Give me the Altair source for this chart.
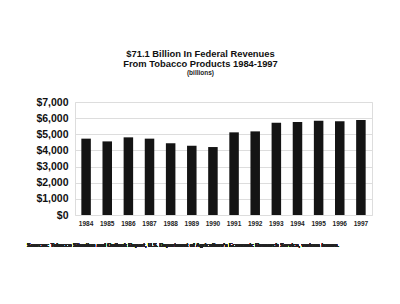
import altair as alt
import pandas as pd

years = ["1984", "1985", "1986", "1987", "1988", "1989", "1990",
         "1991", "1992", "1993", "1994", "1995", "1996", "1997"]
revenues = [4730, 4560, 4810, 4730, 4450, 4290, 4210,
            5120, 5180, 5720, 5760, 5840, 5800, 5890]

df = pd.DataFrame({"year": years, "revenue": revenues})

FONT = "Liberation Sans"

bars = alt.Chart(df).mark_bar(color="#141414").encode(
    x=alt.X("year:N", sort=years,
            scale=alt.Scale(paddingInner=0.55, paddingOuter=0.3),
            axis=alt.Axis(title=None, labelAngle=0, labelFont=FONT,
                          labelFontSize=6.5, labelFontWeight="bold",
                          labelColor="#222", ticks=False, domain=False,
                          labelPadding=5)),
    y=alt.Y("revenue:Q",
            scale=alt.Scale(domain=[0, 7000], nice=False),
            axis=alt.Axis(title=None, values=[0, 1000, 2000, 3000, 4000, 5000, 6000, 7000],
                          format="$,.0f", labelFont=FONT, labelFontSize=10.5,
                          labelFontWeight="bold", labelColor="#111",
                          ticks=False, domain=False, labelPadding=7,
                          grid=True, gridColor="#dddddd", gridWidth=1)),
)

source = alt.Chart(df).mark_text(
    text="Sources:  Tobacco Situation and Outlook Report, U.S. Department of Agriculture's Economic Research Service, various issues.",
    font=FONT, fontSize=5.2, fontWeight="bold", align="left", baseline="middle",
    color="#222",
).encode(x=alt.value(-48), y=alt.value(143))

chart = alt.layer(bars, source).properties(
    width=297, height=113,
    padding={"left": 75, "top": 102, "right": 28, "bottom": 89},
    autosize=alt.AutoSizeParams(type="none"),
    title=alt.Title(
        text=["$71.1 Billion In Federal Revenues", "From Tobacco Products 1984-1997"],
        subtitle="(billions)",
        font=FONT, fontSize=9.4, fontWeight="bold", color="#111",
        subtitleFont=FONT, subtitleFontSize=6.5, subtitleFontWeight="bold",
        subtitleColor="#222", lineHeight=10, subtitlePadding=0,
        anchor="middle", dx=-23, offset=20,
    ),
).configure_view(stroke=None).configure(background="white")

chart.save("out.html", embed_options={"renderer": "svg", "actions": False})
